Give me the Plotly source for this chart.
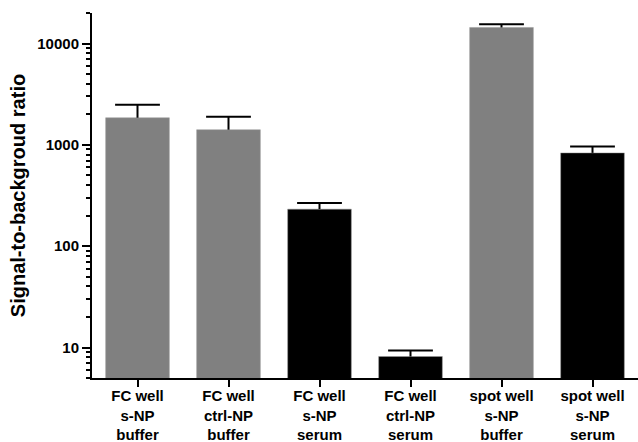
import math
import plotly.graph_objects as go

categories = ["FC well<br>s-NP<br>buffer", "FC well<br>ctrl-NP<br>buffer", "FC well<br>s-NP<br>serum",
              "FC well<br>ctrl-NP<br>serum", "spot well<br>s-NP<br>buffer", "spot well<br>s-NP<br>serum"]
values = [1850, 1410, 232, 8.15, 14400, 833]
errors_up = [640, 480, 35, 1.2, 1100, 130]
colors = ["#808080", "#808080", "#000000", "#000000", "#808080", "#000000"]
y_tickvals = [10, 100, 1000, 10000]
y_ticktext = ["10", "100", "1000", "10000"]
minor_vals = [m * 10 ** e for e in range(0, 5) for m in range(2, 10)]

x = list(range(len(categories)))
tops = [v + e for v, e in zip(values, errors_up)]

fig = go.Figure()
fig.add_trace(go.Bar(
    x=x, y=values, width=0.7,
    marker=dict(color=colors, line=dict(color="#9a9a9a", width=0.5)),
    hoverinfo="skip",
))
# error bar stems (upper only)
stem_x, stem_y = [], []
for xi, v, t in zip(x, values, tops):
    stem_x += [xi, xi, None]
    stem_y += [v, t, None]
fig.add_trace(go.Scatter(x=stem_x, y=stem_y, mode="lines", line=dict(color="black", width=2),
                         hoverinfo="skip"))
# error bar caps
fig.add_trace(go.Scatter(x=x, y=tops, mode="markers",
                         marker=dict(symbol="line-ew", size=32, line=dict(color="black", width=2)),
                         hoverinfo="skip"))

font = "Liberation Sans, Arial, sans-serif"
fig.update_layout(
    width=638, height=442,
    margin=dict(l=92, r=0, t=13, b=64),
    paper_bgcolor="white", plot_bgcolor="white",
    showlegend=False,
    font=dict(family=font, color="black"),
    bargap=0.3,
)
fig.update_xaxes(
    tickmode="array", tickvals=x, ticktext=["<b>" + c.replace("<br>", "</b><br><b>") + "</b>" for c in categories],
    range=[-0.5, 5.5], showline=True, linecolor="black", linewidth=2,
    ticks="outside", ticklen=7, tickwidth=2, tickcolor="black", automargin=False,
    ticklabelstandoff=-4,
    tickfont=dict(size=15, family=font, color="black"), showgrid=False, zeroline=False,
)
fig.update_yaxes(
    type="log", range=[math.log10(5), math.log10(20000)],
    tickmode="array", tickvals=y_tickvals, ticktext=["<b>" + t + "</b>" for t in y_ticktext],
    showline=True, linecolor="black", linewidth=2, automargin=False,
    ticks="outside", ticklen=8, tickwidth=2, tickcolor="black",
    minor=dict(tickmode="array", tickvals=minor_vals, ticks="outside", ticklen=4, tickwidth=1.5, tickcolor="black", showgrid=False),
    tickfont=dict(size=15, family=font, color="black"), showgrid=False, zeroline=False,
    title=dict(text="<b>Signal-to-backgroud ratio</b>", font=dict(size=20, family=font, color="black"), standoff=6),
)

fig.write_html("out.html", config={"displayModeBar": False},
               post_script="document.body.style.margin='0px';document.body.style.overflow='hidden';")
